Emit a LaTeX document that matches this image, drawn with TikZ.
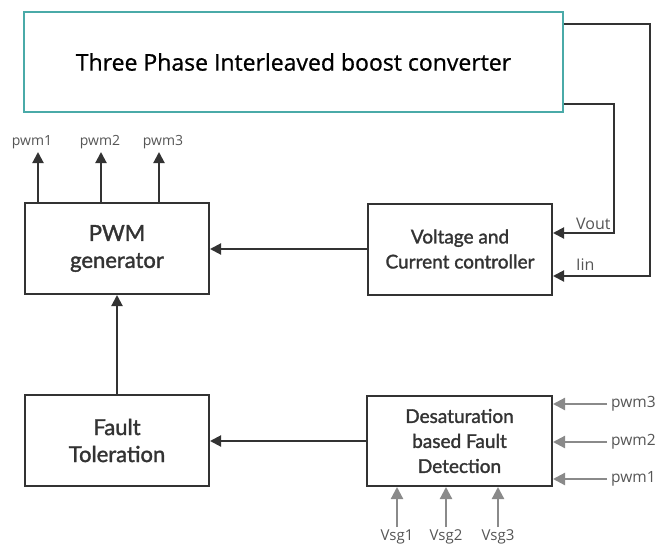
\documentclass[tikz,border=0pt]{standalone}
\usepackage{fontspec}
\setmainfont{Open Sans}
\newfontfamily\latofont{Lato}[FakeBold=1.6]
\newfontfamily\titlefont{Open Sans}[FakeBold=0.8]
\usetikzlibrary{arrows.meta,calc}
\definecolor{teal1}{HTML}{4AAAA8}
\definecolor{line1}{HTML}{333333}
\definecolor{gline}{HTML}{8A8A8A}
\definecolor{lbl}{HTML}{555555}
\begin{document}
\begin{tikzpicture}[x=1pt,y=-1pt,
  box/.style={draw=line1,line width=2pt,rectangle,minimum width=184pt,minimum height=91pt,align=center,font=\latofont\fontsize{19}{25}\selectfont,text=line1,inner sep=0pt},
  bigbox/.style={box,font=\latofont\fontsize{22}{27}\selectfont},
  arr/.style={draw=line1,line width=2pt,-{Triangle[length=11pt,width=11pt]}},
  garr/.style={draw=gline,line width=2.2pt,-{Triangle[length=12pt,width=12pt]}},
  lab/.style={text=lbl,font=\fontsize{14}{16}\selectfont,inner sep=0pt}
]
\useasboundingbox (0,0) rectangle (672,546);
\node[draw=teal1,line width=2pt,minimum width=539pt,minimum height=100pt,inner sep=0pt,font=\titlefont\fontsize{23}{26}\selectfont,text=black] (top) at (293.5,62) {Three Phase Interleaved boost converter};
\node[bigbox] (pwm) at (117,248.5) {PWM\\generator};
\node[box] (volt) at (460,249) {Voltage and\\Current controller};
\node[bigbox] (fault) at (117,440.5) {Fault\\Toleration};
\node[box,minimum width=185pt,minimum height=90pt] (desat) at (459.5,441) {Desaturation\\based Fault\\Detection};
% feedback lines
\coordinate (vo) at (614,233);
\coordinate (ii) at (650,276);
\draw[arr] (top.east |- 0,104) -| (vo) -- (volt.east |- vo);
\draw[arr] (top.east |- 0,24) -| (ii) -- (volt.east |- ii);
\node[lab,font=\fontsize{16}{18}\selectfont,anchor=south west] (vlab) at (576,230) {Vout};
\node[lab,font=\fontsize{16}{18}\selectfont,anchor=south west] (ilab) at (576,271) {Iin};
% pwm outputs
\foreach \x/\n/\lx in {38/1/32,101/2/100,159/3/163}{
  \coordinate (p\n) at (\x,152);
  \draw[arr] (pwm.north -| p\n) -- (p\n);
  \node[lab] (pl\n) at (\lx,142) {pwm\n};
}
\draw[arr] (volt.west) -- (pwm.east |- volt.west);
\draw[arr] (fault.north) -- (pwm.south);
\draw[arr] (desat.west) -- (fault.east |- desat.west);
% desat inputs
\foreach \y/\n in {404/3,442/2,479/1}{
  \coordinate (r\n) at (607,\y);
  \draw[garr] (r\n) -- (desat.east |- r\n);
  \node[lab,font=\fontsize{15.5}{17}\selectfont,anchor=west] (rl\n) at (611,\y) {pwm\n};
}
\foreach \x/\n in {397/1,446/2,498/3}{
  \coordinate (v\n) at (\x,527);
  \draw[garr] (v\n) -- (desat.south -| v\n);
  \node[lab,font=\fontsize{15}{17}\selectfont] (vl\n) at (\x,537) {Vsg\n};
}
\end{tikzpicture}
\end{document}
